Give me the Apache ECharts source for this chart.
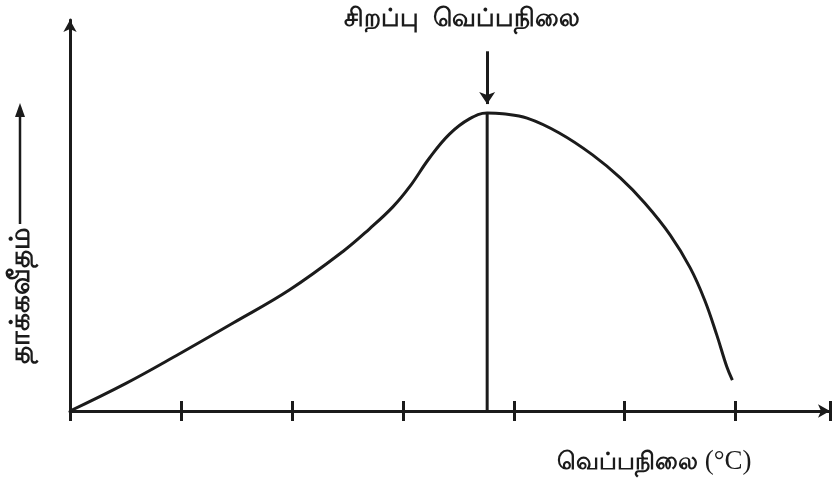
<!DOCTYPE html>
<html style="height: 100%; width:100%">
<head>
    <meta charset="utf-8">
</head>
<body style="height: 100%; width: 100%; margin: 0; background:#fff;">
<div id="container" style="width:832px;height:479px"></div>
<script type="text/javascript" src="https://cdn.jsdelivr.net/npm/echarts@6/dist/echarts.min.js"></script>
<script type="text/javascript">
    // values (x in tick units, y 0..100)
    var curveX = [0, 0.5, 0.96, 1.47, 1.98, 2.46, 2.70, 2.91, 3.06, 3.24, 3.42, 3.60, 3.76, 3.90, 4.12, 4.41, 4.71, 4.96, 5.18, 5.41, 5.59, 5.72, 5.83, 5.92, 5.97];
    var curveY = [0, 7.0, 14.2, 22.5, 31.0, 40.8, 46.6, 52.2, 57.3, 64.7, 70.8, 74.7, 76.2, 76.0, 74.9, 71.1, 65.5, 59.6, 53.2, 45.0, 36.6, 28.4, 19.4, 11.3, 7.9];
    var optimumX = 3.76;
    var optimumY = 76.2;
    var arrowFrom = 92;
    var arrowTo = 78.5;

    var titleText = "சிறப்பு  வெப்பநிலை";
    var yName = "தாக்கவீதம்";
    var xName = "வெப்பநிலை";

    var dom = document.getElementById("container");
    var myChart = echarts.init(dom);

    var curve = curveX.map(function (x, i) { return [x, curveY[i]]; });
    var ink = "#1b1b1b";

    var option = {
        backgroundColor: "#ffffff",
        animation: false,
        grid: { left: 70, right: 2, top: 20, bottom: 68 },
        xAxis: [{
            type: "value",
            min: 0,
            max: 6.85,
            interval: 1,
            axisLine: { show: true, symbol: ["none", "arrow"], symbolSize: [10, 12], lineStyle: { color: ink, width: 3 } },
            axisTick: { show: true, inside: true, length: 10, lineStyle: { color: ink, width: 3 } },
            axisLabel: { show: false },
            splitLine: { show: false }
        }, {
            type: "value",
            position: "bottom",
            min: 0,
            max: 6.85,
            interval: 1,
            axisLine: { show: false },
            axisTick: { show: true, inside: false, length: 10, lineStyle: { color: ink, width: 3 } },
            axisLabel: { show: false },
            splitLine: { show: false }
        }],
        yAxis: {
            type: "value",
            min: 0,
            max: 100,
            axisLine: { show: true, symbol: ["none", "arrow"], symbolSize: [10, 12], lineStyle: { color: ink, width: 3 } },
            axisTick: { show: false },
            axisLabel: { show: false },
            splitLine: { show: false }
        },
        graphic: [{
            type: "text",
            x: 462,
            y: 19,
            style: { text: titleText, font: "bold 25px sans-serif", fill: ink, textAlign: "center", textVerticalAlign: "middle" }
        }, {
            type: "text",
            x: 21,
            y: 295,
            rotation: Math.PI / 2,
            style: { text: yName, font: "bold 28px sans-serif", fill: ink, textAlign: "center", textVerticalAlign: "middle" }
        }, {
            type: "line",
            shape: { x1: 20, y1: 224, x2: 20, y2: 115 },
            style: { stroke: ink, lineWidth: 2.5 }
        }, {
            type: "polygon",
            shape: { points: [[20, 103], [15, 117], [25, 117]] },
            style: { fill: ink }
        }, {
            type: "text",
            x: 557,
            y: 462,
            style: {
                text: "{t|" + xName + "}  {u|(°C)}",
                textVerticalAlign: "middle",
                rich: {
                    t: { font: "bold 24px sans-serif", fill: ink },
                    u: { font: "27px 'Liberation Serif', serif", fill: ink }
                }
            }
        }],
        series: [{
            type: "line",
            data: curve,
            smooth: 0.4,
            showSymbol: false,
            lineStyle: { color: ink, width: 3 },
            markLine: {
                silent: true,
                symbol: ["none", "arrow"],
                symbolSize: [12, 12],
                label: { show: false },
                lineStyle: { color: ink, width: 3, type: "solid" },
                data: [[{ coord: [optimumX, arrowFrom] }, { coord: [optimumX, arrowTo] }]]
            }
        }, {
            type: "line",
            data: [[optimumX, 0], [optimumX, optimumY]],
            showSymbol: false,
            lineStyle: { color: ink, width: 3 }
        }]
    };
    myChart.setOption(option);
</script>
</body>
</html>
